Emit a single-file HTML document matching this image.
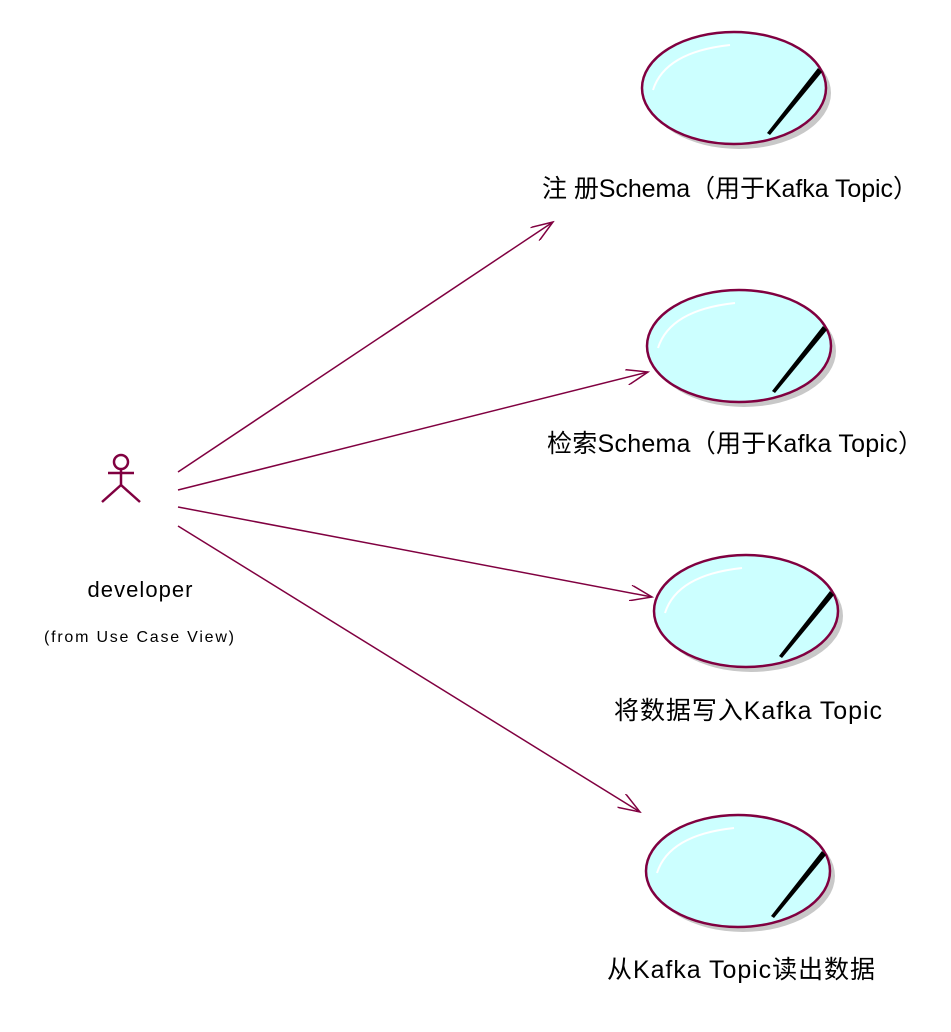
<!DOCTYPE html>
<html><head><meta charset="utf-8"><style>
html,body{margin:0;padding:0;background:#fff;}
svg{display:block;}
text{font-family:"Liberation Sans","Noto Sans CJK SC",sans-serif;fill:#000;}
</style></head><body>
<svg width="951" height="1032" viewBox="0 0 951 1032">
<defs>
<marker id="arr" markerWidth="24" markerHeight="16" refX="22" refY="8" orient="auto" markerUnits="userSpaceOnUse">
<path d="M0,0 L22,8 L0,16" fill="none" stroke="#800040" stroke-width="1.5"/>
</marker>
</defs>
<g stroke="#800040" stroke-width="2.5" fill="none">
<circle cx="121" cy="462" r="7"/>
<line x1="108" y1="473" x2="134" y2="473"/>
<line x1="121" y1="469" x2="121" y2="485"/>
<line x1="121" y1="485" x2="102" y2="502"/>
<line x1="121" y1="485" x2="140" y2="502"/>
</g>
<text x="140" y="597" font-size="22" text-anchor="middle" textLength="105">developer</text>
<text x="139" y="642" font-size="16" text-anchor="middle" textLength="190">(from Use Case View)</text>

<g stroke="#800040" stroke-width="1.5" fill="none">
<line x1="178" y1="472" x2="553" y2="222" marker-end="url(#arr)"/>
<line x1="178" y1="490" x2="648" y2="372" marker-end="url(#arr)"/>
<line x1="178" y1="507" x2="652" y2="597" marker-end="url(#arr)"/>
<line x1="178" y1="526" x2="640" y2="812" marker-end="url(#arr)"/>
</g>

<g>
<ellipse cx="739" cy="93" rx="92" ry="56" fill="#c8c8c8"/>
<ellipse cx="734" cy="88" rx="92" ry="56" fill="#ccffff" stroke="#800040" stroke-width="2.5"/>
<path d="M653,90 Q665,52 730,45" fill="none" stroke="#fff" stroke-width="2"/>
<path d="M818,68 L767,133 L770,135 L822,72 Z" fill="#000"/>
</g>
<text x="730" y="197" font-size="25" text-anchor="middle" textLength="376">注 册Schema（用于Kafka Topic）</text>

<g>
<ellipse cx="744" cy="351" rx="92" ry="56" fill="#c8c8c8"/>
<ellipse cx="739" cy="346" rx="92" ry="56" fill="#ccffff" stroke="#800040" stroke-width="2.5"/>
<path d="M658,348 Q670,310 735,303" fill="none" stroke="#fff" stroke-width="2"/>
<path d="M823,326 L772,391 L775,393 L827,330 Z" fill="#000"/>
</g>
<text x="735" y="452" font-size="25" text-anchor="middle" textLength="376">检索Schema（用于Kafka Topic）</text>

<g>
<ellipse cx="751" cy="616" rx="92" ry="56" fill="#c8c8c8"/>
<ellipse cx="746" cy="611" rx="92" ry="56" fill="#ccffff" stroke="#800040" stroke-width="2.5"/>
<path d="M665,613 Q677,575 742,568" fill="none" stroke="#fff" stroke-width="2"/>
<path d="M830,591 L779,656 L782,658 L834,595 Z" fill="#000"/>
</g>
<text x="748" y="719" font-size="25" text-anchor="middle" textLength="268">将数据写入Kafka Topic</text>

<g>
<ellipse cx="743" cy="876" rx="92" ry="56" fill="#c8c8c8"/>
<ellipse cx="738" cy="871" rx="92" ry="56" fill="#ccffff" stroke="#800040" stroke-width="2.5"/>
<path d="M657,873 Q669,835 734,828" fill="none" stroke="#fff" stroke-width="2"/>
<path d="M822,851 L771,916 L774,918 L826,855 Z" fill="#000"/>
</g>
<text x="741" y="978" font-size="25" text-anchor="middle" textLength="268">从Kafka Topic读出数据</text>
</svg>
</body></html>
